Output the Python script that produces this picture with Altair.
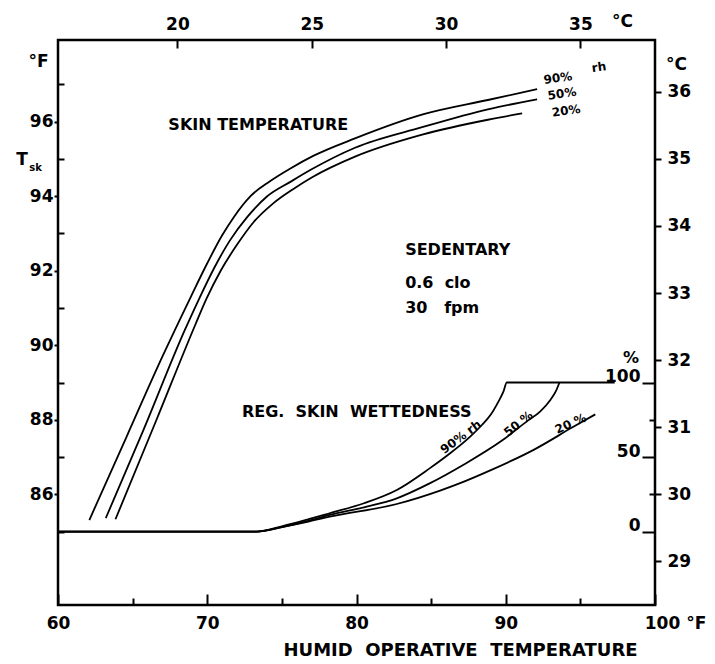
import altair as alt
import pandas as pd

FONT = "DejaVu Sans"

# ---------------- data ----------------
# Skin temperature (Tsk, deg F) vs humid operative temperature (deg F)
tsk_x_90 = [62.1, 64.6, 67.0, 68.9, 70.0, 71.0, 71.8, 72.9, 74.2, 75.6, 77.1, 79.9, 84.5, 88.8, 92.1]
tsk_y_90 = [85.31, 87.55, 89.7, 91.3, 92.2, 92.95, 93.45, 94.0, 94.4, 94.75, 95.08, 95.55, 96.2, 96.58, 96.87]
tsk_x_50 = [63.2, 65.7, 68.5, 69.4, 70.5, 71.5, 72.7, 74.0, 75.6, 76.9, 79.9, 84.4, 88.8, 92.1]
tsk_y_50 = [85.36, 87.7, 90.41, 91.2, 92.1, 92.8, 93.45, 93.99, 94.39, 94.7, 95.3, 95.85, 96.33, 96.6]
tsk_x_20 = [63.85, 66.6, 69.2, 69.95, 70.9, 72.0, 73.1, 74.4, 75.8, 77.0, 79.9, 84.4, 88.8, 91.1]
tsk_y_20 = [85.33, 88.0, 90.55, 91.25, 92.0, 92.7, 93.3, 93.8, 94.2, 94.5, 95.06, 95.65, 96.05, 96.22]

# Regulatory skin wettedness (%) vs humid operative temperature (deg F)
wet_x_90 = [60.0, 73.3, 75.0, 76.7, 78.2, 80.5, 82.7, 84.9, 86.1, 87.6, 88.4, 89.0, 89.5, 89.85, 90.07, 97.3]
wet_w_90 = [0, 0, 3.5, 8.0, 12.3, 19.0, 27.9, 42.4, 51.2, 63.5, 71.5, 78.5, 87.0, 94.0, 100, 100]
wet_x_50 = [60.0, 73.3, 75.0, 76.7, 78.2, 80.5, 82.7, 84.9, 87.2, 89.7, 91.5, 92.3, 93.0, 93.35, 93.6]
wet_w_50 = [0, 0, 3.0, 7.0, 11.2, 16.3, 22.3, 32.3, 45.0, 60.7, 74.6, 80.5, 88.5, 94.0, 100]
wet_x_20 = [60.0, 73.3, 75.0, 76.7, 78.2, 82.7, 85.6, 87.2, 89.0, 91.9, 94.5, 96.0]
wet_w_20 = [0, 0, 3.0, 6.5, 10.0, 18.5, 27.5, 33.5, 41.2, 55.0, 70.1, 78.6]

# axis tick values
f_x_ticks = [60, 65, 70, 75, 80, 85, 90, 95, 100]
f_y_ticks = list(range(85, 98))
c_x_ticks = [20, 25, 30, 35]
c_y_ticks = list(range(29, 37))
w_ticks = [0, 25, 50, 75, 100]

# annotations (positioned in data coordinates)
ann_center_text = ["SKIN TEMPERATURE"]
ann_center_x = [73.42]
ann_center_y = [95.91]
ann_left_text = ["SEDENTARY", "0.6\u00a0\u00a0clo", "30\u00a0\u00a0\u00a0fpm",
                 "REG.\u00a0\u00a0SKIN\u00a0\u00a0WETTEDNESS"]
ann_left_x = [83.26, 83.26, 83.26, 72.32]
ann_left_y = [92.55, 91.67, 91.0, 88.22]
tsk_lab_text = ["90%", "rh", "50%", "20%"]
tsk_lab_x = [93.5, 96.24, 93.77, 94.04]
tsk_lab_y = [97.17, 97.46, 96.75, 96.29]
wet_lab_text = ["90%\u00a0rh", "50\u00a0%", "20\u00a0%"]
wet_lab_x = [86.99, 90.84, 94.35]
wet_lab_w = [63.5, 72.4, 72.4]
wet_lab_angle = [323, 321, 336]

# ---------------- frames ----------------
tsk = pd.concat([
    pd.DataFrame({"x": tsk_x_90, "y": tsk_y_90, "rh": "90%"}),
    pd.DataFrame({"x": tsk_x_50, "y": tsk_y_50, "rh": "50%"}),
    pd.DataFrame({"x": tsk_x_20, "y": tsk_y_20, "rh": "20%"}),
], ignore_index=True)
wet = pd.concat([
    pd.DataFrame({"x": wet_x_90, "w": wet_w_90, "rh": "90%"}),
    pd.DataFrame({"x": wet_x_50, "w": wet_w_50, "rh": "50%"}),
    pd.DataFrame({"x": wet_x_20, "w": wet_w_20, "rh": "20%"}),
], ignore_index=True)
ann_c = pd.DataFrame({"x": ann_center_x, "y": ann_center_y, "t": ann_center_text})
ann_l = pd.DataFrame({"x": ann_left_x, "y": ann_left_y, "t": ann_left_text})
tsk_lab = pd.DataFrame({"x": tsk_lab_x, "y": tsk_lab_y, "t": tsk_lab_text})
tsub = pd.DataFrame({"x": [57.59, 58.5], "y": [94.96, 94.76], "t": ["T", "sk"], "s": [17, 10]})
wet_lab = pd.DataFrame({"x": wet_lab_x, "w": wet_lab_w, "t": wet_lab_text, "a": wet_lab_angle})
pct = pd.DataFrame({"x": [98.39], "w": [116.7], "t": ["%"]})

# ---------------- scales ----------------
Y_LO, Y_HI = 83.03, 98.19
xF = alt.Scale(domain=[60, 100], nice=False, zero=False)
yF = alt.Scale(domain=[Y_LO, Y_HI], nice=False, zero=False)
xC = alt.Scale(domain=[(60 - 32) / 1.8, (100 - 32) / 1.8], nice=False, zero=False)
yC = alt.Scale(domain=[(Y_LO - 32) / 1.8, (Y_HI - 32) / 1.8], nice=False, zero=False)
# wettedness 0..100 % drawn between 85 and 89 deg F
yW = alt.Scale(domain=[(Y_LO - 85) * 25, (Y_HI - 85) * 25], nice=False, zero=False)

common = dict(labelFlush=False, labelOverlap=False)

ax_bottom = alt.Axis(
    orient="bottom", values=f_x_ticks,
    labelExpr="datum.value % 10 == 0 ? (datum.value == 100 ? '100\u00a0°F' : datum.label) : ''",
    tickSize=alt.ExprRef("datum.value % 10 == 0 ? -11 : -7"),
    labelPadding=21, labelOffset=alt.ExprRef("datum.value == 100 ? 20 : 0"),
    title="HUMID\u00a0\u00a0OPERATIVE\u00a0\u00a0TEMPERATURE",
    titleX=402, titleY=45, titleAlign="center", titleBaseline="middle", titleFontSize=18,
    **common)
ax_left = alt.Axis(
    orient="left", values=f_y_ticks,
    labelExpr="datum.value % 2 == 0 ? datum.label : ''",
    tickSize=alt.ExprRef("datum.value % 2 == 0 ? 4 : -6"),
    labelPadding=1, title="°F", titleAngle=0, titleX=-20, titleY=21,
    titleAlign="center", titleBaseline="middle", **common)
ax_top = alt.Axis(
    orient="top", values=c_x_ticks, tickSize=alt.ExprRef("-8"), labelPadding=15,
    title="°C", titleAngle=0, titleX=564, titleY=-19,
    titleAlign="center", titleBaseline="middle", **common)
ax_rightC = alt.Axis(
    orient="right", values=c_y_ticks, tickSize=6, labelPadding=6,
    title="°C", titleAngle=0, titleX=21, titleY=24,
    titleAlign="center", titleBaseline="middle", **common)
ax_wet = alt.Axis(
    orient="right", values=w_ticks,
    labelExpr="datum.value % 50 == 0 ? datum.label : ''",
    tickSize=alt.ExprRef("datum.value % 50 == 0 ? -13 : -6"),
    labelPadding=-2, labelAlign="right", labelBaseline="alphabetic", labelOffset=-1,
    title="", **common)

LW = 1.8

# ---------------- main (deg F) layer ----------------
def fx(field="x"):
    return alt.X(f"{field}:Q", scale=xF, axis=ax_bottom)


def fy(field="y"):
    return alt.Y(f"{field}:Q", scale=yF, axis=ax_left)


tsk_lines = alt.Chart(tsk).mark_line(color="black", strokeWidth=LW, interpolate="monotone").encode(
    x=fx(), y=fy(), detail="rh:N")
txt_c = alt.Chart(ann_c).mark_text(font=FONT, fontSize=16, fontWeight="bold", align="center",
                                   baseline="middle", color="black").encode(
    x=fx(), y=fy(), text="t:N")
txt_l = alt.Chart(ann_l).mark_text(font=FONT, fontSize=16, fontWeight="bold", align="left",
                                   baseline="middle", color="black").encode(
    x=fx(), y=fy(), text="t:N")
txt_tsk = alt.Chart(tsk_lab).mark_text(font=FONT, fontSize=12, fontWeight="bold", align="center",
                                       baseline="middle", angle=352, color="black").encode(
    x=fx(), y=fy(), text="t:N")
txt_sub = alt.Chart(tsub).mark_text(font=FONT, fontWeight="bold", align="center",
                                    baseline="middle", color="black").encode(
    x=fx(), y=fy(), text="t:N",
    size=alt.Size("s:Q", scale=None, legend=None))
main = alt.layer(tsk_lines, txt_c, txt_l, txt_tsk, txt_sub)

# ---------------- Celsius axes layer ----------------
cels = alt.Chart(tsk).transform_calculate(
    xc="(datum.x - 32) / 1.8", yc="(datum.y - 32) / 1.8"
).mark_line(opacity=0).encode(
    x=alt.X("xc:Q", scale=xC, axis=ax_top),
    y=alt.Y("yc:Q", scale=yC, axis=ax_rightC),
    detail="rh:N",
)

# ---------------- wettedness layer ----------------
def wx():
    return alt.X("x:Q", scale=xF, axis=None)


def wy():
    return alt.Y("w:Q", scale=yW, axis=ax_wet)


wet_lines = alt.Chart(wet).mark_line(color="black", strokeWidth=LW, interpolate="monotone").encode(
    x=wx(), y=wy(), detail="rh:N")
wet_txt = alt.Chart(wet_lab).mark_text(font=FONT, fontSize=12, fontWeight="bold", align="center",
                                       baseline="middle", color="black").encode(
    x=wx(), y=wy(), text="t:N", angle=alt.Angle("a:Q", scale=None))
pct_txt = alt.Chart(pct).mark_text(font=FONT, fontSize=16, fontWeight="bold", align="center",
                                   baseline="middle", color="black").encode(
    x=wx(), y=wy(), text="t:N")
wetl = alt.layer(wet_lines, wet_txt, pct_txt)

chart = alt.layer(main, cels, wetl).resolve_scale(
    x="independent", y="independent"
).properties(
    width=597, height=565, autosize="none",
    padding={"left": 50, "top": 32, "right": 52, "bottom": 56},
).configure_view(
    stroke="black", strokeWidth=2.5
).configure_axis(
    grid=False, domain=False,
    labelFont=FONT, labelFontSize=17, labelFontWeight="bold", labelColor="black",
    tickColor="black", tickWidth=2,
    titleFont=FONT, titleFontSize=17, titleFontWeight="bold", titleColor="black",
)

chart.save("out.html", embed_options={"renderer": "svg", "actions": False})
